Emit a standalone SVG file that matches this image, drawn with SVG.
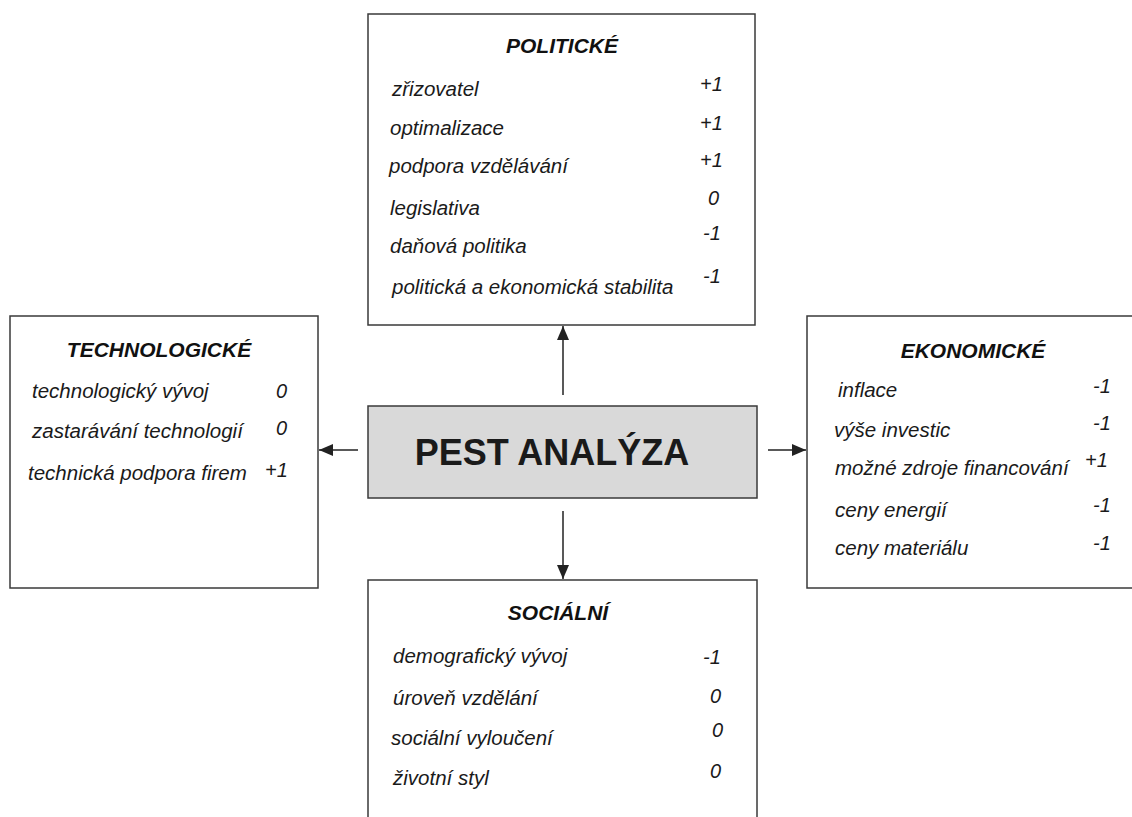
<svg xmlns="http://www.w3.org/2000/svg" width="1132" height="817" viewBox="0 0 1132 817">
  <style>
    .box { fill: #ffffff; stroke: #3a3a3a; stroke-width: 1.5; }
    .core { fill: #d9d9d9; stroke: #3a3a3a; stroke-width: 1.5; }
    .head { font-family: "Liberation Sans", Arial, sans-serif; font-size: 21px; font-weight: bold; font-style: italic; fill: #111; text-anchor: middle; }
    .item { font-family: "Liberation Sans", Arial, sans-serif; font-size: 20.5px; font-style: italic; fill: #1a1a1a; }
    .val { font-family: "Liberation Sans", Arial, sans-serif; font-size: 20px; font-style: italic; fill: #1a1a1a; }
    .title { font-family: "Liberation Sans", Arial, sans-serif; font-size: 36px; font-weight: bold; fill: #1a1a1a; text-anchor: middle; }
    .link { stroke: #222; stroke-width: 1.5; fill: none; marker-end: url(#tip); }
  </style>
  <defs>
    <marker id="tip" markerUnits="userSpaceOnUse" markerWidth="14" markerHeight="12" refX="14" refY="6" orient="auto">
      <path d="M0,0 L14,6 L0,12 z" fill="#222"/>
    </marker>
  </defs>
  <rect width="1132" height="817" fill="#ffffff"/>

  <g id="connectors">
    <line class="link" x1="563" y1="395" x2="563" y2="326"/>
    <line class="link" x1="563" y1="511" x2="563" y2="579"/>
    <line class="link" x1="358" y1="450" x2="319" y2="450"/>
    <line class="link" x1="768" y1="450" x2="806" y2="450"/>
  </g>

  <g id="pest">
    <rect class="core" x="368" y="406" width="389" height="92"/>
    <text class="title" x="552" y="465">PEST ANALÝZA</text>
  </g>

  <g id="politicke">
    <rect class="box" x="368" y="14" width="387" height="311"/>
    <text class="head" x="562" y="53">POLITICKÉ</text>
    <text class="item" x="392" y="96">zřizovatel</text>
    <text class="item" x="390" y="135">optimalizace</text>
    <text class="item" x="389" y="173">podpora vzdělávání</text>
    <text class="item" x="390" y="215">legislativa</text>
    <text class="item" x="390" y="253">daňová politika</text>
    <text class="item" x="392" y="294">politická a ekonomická stabilita</text>
    <text class="val" x="700" y="91">+1</text>
    <text class="val" x="700" y="130">+1</text>
    <text class="val" x="700" y="167">+1</text>
    <text class="val" x="708" y="205">0</text>
    <text class="val" x="703" y="240">-1</text>
    <text class="val" x="703" y="283">-1</text>
  </g>

  <g id="technologicke">
    <rect class="box" x="10" y="316" width="308" height="272"/>
    <text class="head" x="159" y="357">TECHNOLOGICKÉ</text>
    <text class="item" x="32" y="398">technologický vývoj</text>
    <text class="item" x="32" y="438">zastarávání technologií</text>
    <text class="item" x="28" y="480">technická podpora firem</text>
    <text class="val" x="276" y="398">0</text>
    <text class="val" x="276" y="435">0</text>
    <text class="val" x="265" y="477">+1</text>
  </g>

  <g id="ekonomicke">
    <rect class="box" x="807" y="316" width="340" height="272"/>
    <text class="head" x="973" y="358">EKONOMICKÉ</text>
    <text class="item" x="838" y="397">inflace</text>
    <text class="item" x="834" y="437">výše investic</text>
    <text class="item" x="835" y="475">možné zdroje financování</text>
    <text class="item" x="835" y="517">ceny energií</text>
    <text class="item" x="835" y="555">ceny materiálu</text>
    <text class="val" x="1093" y="393">-1</text>
    <text class="val" x="1093" y="430">-1</text>
    <text class="val" x="1085" y="467">+1</text>
    <text class="val" x="1093" y="512">-1</text>
    <text class="val" x="1093" y="550">-1</text>
  </g>

  <g id="socialni">
    <rect class="box" x="368" y="580" width="389" height="260"/>
    <text class="head" x="558" y="620">SOCIÁLNÍ</text>
    <text class="item" x="393" y="663">demografický vývoj</text>
    <text class="item" x="393" y="705">úroveň vzdělání</text>
    <text class="item" x="391" y="745">sociální vyloučení</text>
    <text class="item" x="393" y="785">životní styl</text>
    <text class="val" x="703" y="664">-1</text>
    <text class="val" x="710" y="703">0</text>
    <text class="val" x="712" y="737">0</text>
    <text class="val" x="710" y="778">0</text>
  </g>
</svg>
